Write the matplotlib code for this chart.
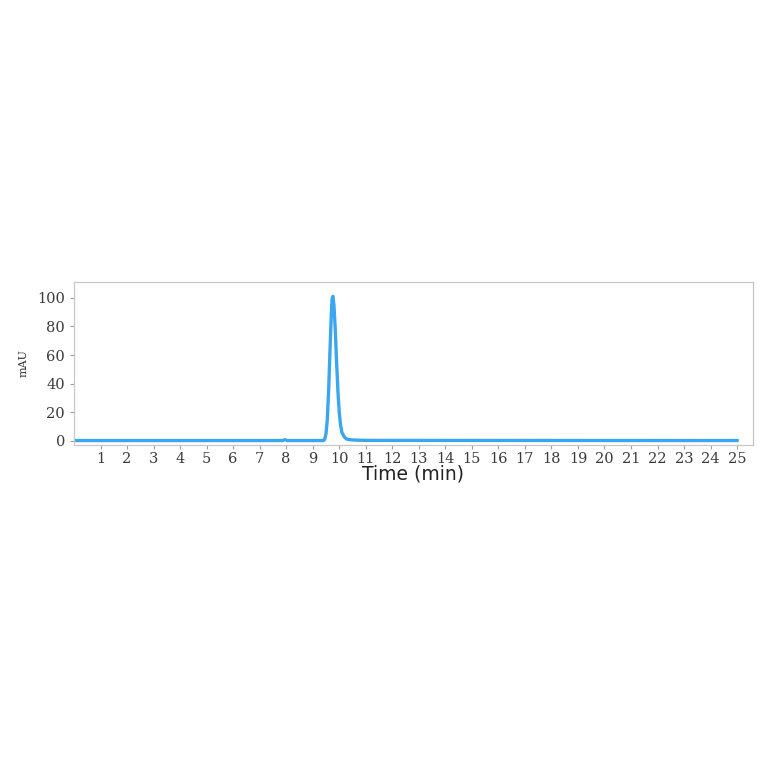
import matplotlib.pyplot as plt

# Chromatogram trace (time in min, signal in mAU)
time_min = [0.0, 7.85, 7.95, 8.05, 9.4, 9.45, 9.5, 9.55, 9.6, 9.65, 9.7, 9.73,
            9.76, 9.8, 9.85, 9.9, 9.95, 10.0, 10.05, 10.1, 10.2, 10.3, 10.5, 11.0, 25.0]
signal_mau = [0.3, 0.3, 0.9, 0.3, 0.3, 1.0, 5.0, 15.0, 35.0, 62.0, 88.0, 99.0,
              101.0, 95.0, 78.0, 55.0, 35.0, 20.0, 11.0, 6.0, 2.5, 1.2, 0.7, 0.4, 0.3]

x_ticks = list(range(1, 26))
y_ticks = [0, 20, 40, 60, 80, 100]

fig = plt.figure(figsize=(7.64, 7.64), dpi=100)
ax = fig.add_axes([74 / 764, 1 - 445 / 764, (753 - 74) / 764, (445 - 282) / 764])

ax.plot(time_min, signal_mau, color='#3aa6f0', linewidth=2.4)

ax.set_xlim(0, 25.6)
ax.set_ylim(-2.8, 111)
ax.set_xticks(x_ticks)
ax.set_yticks(y_ticks)
ax.tick_params(axis='both', colors='#a0a0a0', length=3, width=0.8, labelsize=10.5,
               labelcolor='#3a3a3a')
ax.tick_params(axis='x', pad=2)
for lab in ax.get_xticklabels() + ax.get_yticklabels():
    lab.set_family('DejaVu Serif')

for s in ax.spines.values():
    s.set_color('#c8c8c8')
    s.set_linewidth(0.9)

ax.set_xlabel('Time (min)', fontsize=13.5, color='#222222', labelpad=-1)
ax.set_ylabel('mAU', fontsize=8, family='DejaVu Serif', color='#333333', labelpad=6)

plt.savefig('out.png', dpi=100)
